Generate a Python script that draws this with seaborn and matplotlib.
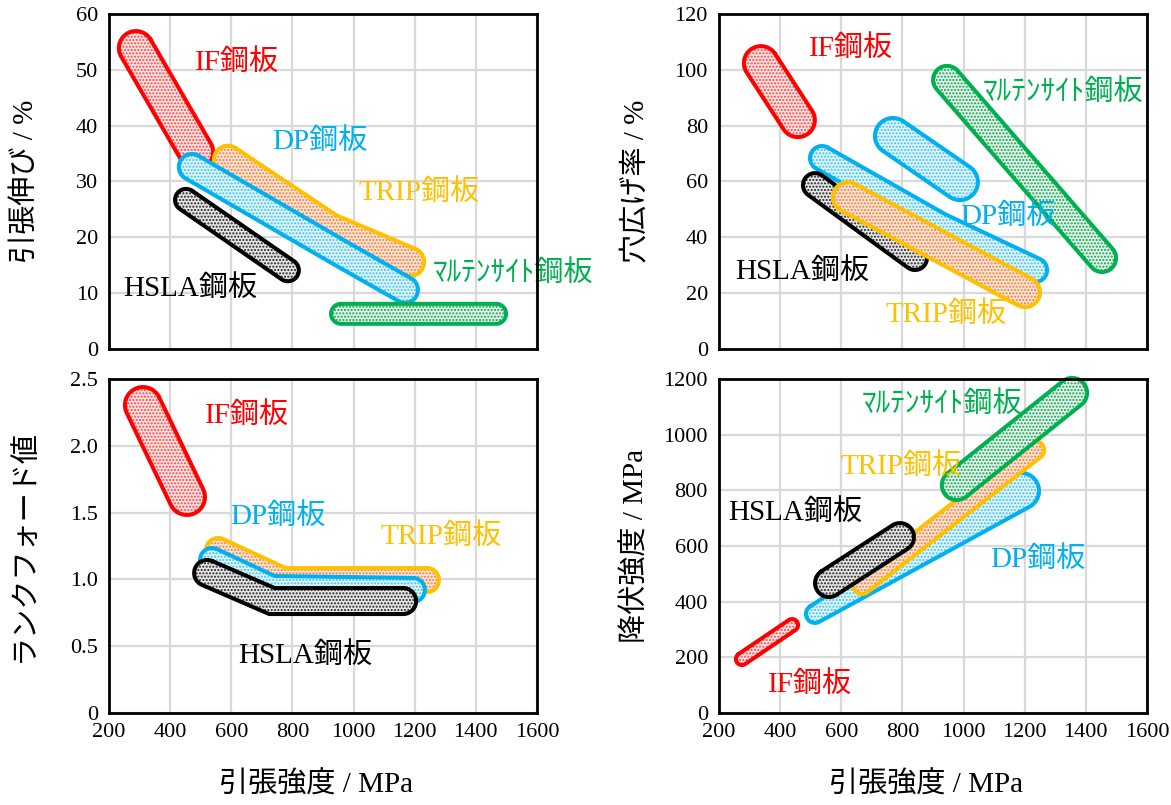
import numpy as np
import matplotlib
matplotlib.use('Agg')
import matplotlib.pyplot as plt
import seaborn as sns

sns.set_theme(style='whitegrid')
plt.rcParams['font.family'] = ['Liberation Serif', 'Noto Sans CJK JP']
plt.rcParams['hatch.linewidth'] = 1.0
plt.rcParams['axes.unicode_minus'] = False

# ---------------- data (centre lines of each steel region: tensile strength MPa, property) -------------
ts_ticks = [200, 400, 600, 800, 1000, 1200, 1400, 1600]
ts_ticklabels = ['200', '400', '600', '800', '1000', '1200', '1400', '1600']

# Panel 1: tensile elongation (%)
el_ticks = [0, 10, 20, 30, 40, 50, 60]
el_if_ts, el_if = [288, 485], [53.9, 35.3]
el_trip_ts, el_trip = [589, 923, 1185], [33.9, 21.7, 15.6]
el_dp_ts, el_dp = [471, 956, 1168], [32.6, 17.2, 10.6]
el_hsla_ts, el_hsla = [452, 785], [26.7, 14.1]
el_mart_ts, el_mart = [959, 1466], [6.3, 6.3]

# Panel 2: hole expansion ratio (%)
he_ticks = [0, 20, 40, 60, 80, 100, 120]
he_dp_ts, he_dp = [537, 923, 1234], [68.4, 44.4, 28.3]
he_hsla_ts, he_hsla = [514, 841], [58.7, 32.6]
he_trip_ts, he_trip = [622, 1201], [54.4, 20.4]
he_dp2_ts, he_dp2 = [769, 988], [76.3, 59.8]
he_mart_ts, he_mart = [946, 1453], [96.4, 32.6]
he_if_ts, he_if = [337, 458], [102.4, 82.0]

# Panel 3: Lankford value
r_ticks = [0, 0.5, 1.0, 1.5, 2.0, 2.5]
r_ticklabels = ['0', '0.5', '1.0', '1.5', '2.0', '2.5']
r_if_ts, r_if = [311, 455], [2.305, 1.617]
r_trip_ts, r_trip = [557, 769, 1240], [1.22, 0.995, 0.995]
r_dp_ts, r_dp = [537, 733, 1194], [1.145, 0.936, 0.921]
r_hsla_ts, r_hsla = [521, 733, 1162], [1.048, 0.838, 0.838]

# Panel 4: yield strength (MPa)
ys_ticks = [0, 200, 400, 600, 800, 1000, 1200]
ys_if_ts, ys_if = [275, 439], [194, 316]
ys_dp_ts, ys_dp = [514, 1188], [356, 798]
ys_trip_ts, ys_trip = [668, 1234], [460, 945]
ys_hsla_ts, ys_hsla = [560, 792], [467, 632]
ys_mart_ts, ys_mart = [978, 1355], [819, 1150]

# ---------------- styles ----------------
STY = {
    'IF':   dict(edge='#FF0000', face='#FFE4E4', hatch='#FF4040'),
    'DP':   dict(edge='#00B0F0', face='#E2F5FD', hatch='#3CC0F0'),
    'TRIP': dict(edge='#FFC000', face='#FDE6D6', hatch='#F07A3A'),
    'HSLA': dict(edge='#000000', face='#E6E6E6', hatch='#202020'),
    'M':    dict(edge='#00B050', face='#E2F5E8', hatch='#10A050'),
}
TXT = {'IF': '#FF0000', 'DP': '#00B0F0', 'TRIP': '#FFC000', 'HSLA': '#000000', 'M': '#00B050'}
LABEL = {'IF': 'IF鋼板', 'DP': 'DP鋼板', 'TRIP': 'TRIP鋼板', 'HSLA': 'HSLA鋼板', 'M': 'ﾏﾙﾃﾝｻｲﾄ鋼板'}

fig = plt.figure(figsize=(11.71, 8.05), dpi=100)
fig.patch.set_facecolor('white')
FW, FH = 1171, 805
ax_el = fig.add_axes([109 / FW, 1 - 349 / FH, 428 / FW, 335 / FH])
ax_he = fig.add_axes([719 / FW, 1 - 349 / FH, 428 / FW, 335 / FH])
ax_r = fig.add_axes([109 / FW, 1 - 713 / FH, 428 / FW, 334 / FH])
ax_ys = fig.add_axes([719 / FW, 1 - 713 / FH, 428 / FW, 334 / FH])


def setup(ax, yticks, ylabels, ylabel, show_x):
    ax.set_xlim(200, 1600)
    ax.set_ylim(yticks[0], yticks[-1])
    ax.set_xticks(ts_ticks)
    ax.set_xticklabels(ts_ticklabels)
    ax.set_yticks(yticks)
    ax.set_yticklabels(ylabels)
    ax.set_facecolor('white')
    ax.grid(True, color='#D9D9D9', linewidth=1.6)
    ax.set_axisbelow(True)
    for s in ax.spines.values():
        s.set_color('black')
        s.set_linewidth(2.0)
        s.set_zorder(50)
    ax.tick_params(length=0, labelsize=16, colors='black', pad=7)
    ax.tick_params(axis='y', pad=8)
    if not show_x:
        ax.tick_params(labelbottom=False)
    ax.set_ylabel(ylabel, fontsize=21, color='black')
    ax.yaxis.set_label_coords(-0.163, 0.5)
    if show_x:
        ax.set_xlabel('引張強度 / MPa', fontsize=21, color='black')
        ax.xaxis.set_label_coords(0.484, -0.175)


setup(ax_el, el_ticks, [str(v) for v in el_ticks], '引張伸び / %', False)
setup(ax_he, he_ticks, [str(v) for v in he_ticks], '穴広げ率 / %', False)
setup(ax_r, r_ticks, r_ticklabels, 'ランクフォード値', True)
setup(ax_ys, ys_ticks, [str(v) for v in ys_ticks], '降伏強度 / MPa', True)


def capsule(ax, xs, ys, radii, n_arc=30):
    pts = ax.transData.transform(np.column_stack([xs, ys]).astype(float))
    r = np.broadcast_to(np.asarray(radii, float), (len(pts),)).copy()
    d = np.diff(pts, axis=0)
    d = d / np.linalg.norm(d, axis=1)[:, None]
    nseg = np.column_stack([-d[:, 1], d[:, 0]])
    normals, dist = [], []
    for i in range(len(pts)):
        if i == 0:
            n, k = nseg[0], 1.0
        elif i == len(pts) - 1:
            n, k = nseg[-1], 1.0
        else:
            n = nseg[i - 1] + nseg[i]
            n = n / np.linalg.norm(n)
            k = 1.0 / np.dot(n, nseg[i])
        normals.append(n)
        dist.append(r[i] * k)
    normals = np.array(normals)
    dist = np.array(dist)
    left = pts + normals * dist[:, None]
    right = pts - normals * dist[:, None]
    te = np.arctan2(normals[-1][1], normals[-1][0])
    a = np.linspace(te, te - np.pi, n_arc)
    cap_e = pts[-1] + r[-1] * np.column_stack([np.cos(a), np.sin(a)])
    ts0 = np.arctan2(normals[0][1], normals[0][0])
    a = np.linspace(ts0 + np.pi, ts0, n_arc)
    cap_s = pts[0] + r[0] * np.column_stack([np.cos(a), np.sin(a)])
    poly = np.vstack([left, cap_e, right[::-1], cap_s, left[:1]])
    return ax.transData.inverted().transform(poly)


def region(ax, xs, ys, radii, kind, z):
    st = STY[kind]
    poly = capsule(ax, xs, ys, radii)
    ax.fill(poly[:, 0], poly[:, 1], facecolor=st['face'], edgecolor=st['hatch'],
            hatch='.....', linewidth=0, zorder=z, clip_on=False)
    sns.lineplot(x=poly[:, 0], y=poly[:, 1], sort=False, estimator=None, ax=ax,
                 color=st['edge'], linewidth=2.9, zorder=z + 0.5, clip_on=False,
                 solid_joinstyle='round', solid_capstyle='round')


# Panel 1
region(ax_el, el_if_ts, el_if, 17, 'IF', 3)
region(ax_el, el_trip_ts, el_trip, 14, 'TRIP', 4)
region(ax_el, el_dp_ts, el_dp, 13, 'DP', 5)
region(ax_el, el_hsla_ts, el_hsla, 11, 'HSLA', 6)
region(ax_el, el_mart_ts, el_mart, 10, 'M', 7)

# Panel 2
region(ax_he, he_dp_ts, he_dp, 12, 'DP', 3)
region(ax_he, he_hsla_ts, he_hsla, 12, 'HSLA', 4)
region(ax_he, he_trip_ts, he_trip, 15, 'TRIP', 5)
region(ax_he, he_dp2_ts, he_dp2, 18, 'DP', 6)
region(ax_he, he_mart_ts, he_mart, 14, 'M', 7)
region(ax_he, he_if_ts, he_if, 17, 'IF', 8)

# Panel 3
region(ax_r, r_if_ts, r_if, 18, 'IF', 3)
region(ax_r, r_trip_ts, r_trip, 12, 'TRIP', 4)
region(ax_r, r_dp_ts, r_dp, 12, 'DP', 5)
region(ax_r, r_hsla_ts, r_hsla, 13, 'HSLA', 6)

# Panel 4
region(ax_ys, ys_if_ts, ys_if, 6, 'IF', 3)
region(ax_ys, ys_dp_ts, ys_dp, [9, 18], 'DP', 4)
region(ax_ys, ys_trip_ts, ys_trip, 9, 'TRIP', 5)
region(ax_ys, ys_hsla_ts, ys_hsla, 14, 'HSLA', 6)
region(ax_ys, ys_mart_ts, ys_mart, 15, 'M', 7)

# group labels (placement in data coordinates)
labels_layout = {
    ax_el: [('IF', 619, 51.4), ('DP', 890, 37.1), ('TRIP', 1214, 28.1), ('HSLA', 465, 10.9), ('M', 1521, 13.6)],
    ax_he: [('IF', 632, 107.8), ('M', 1325, 91.7), ('DP', 1145, 47.3), ('HSLA', 471, 27.6), ('TRIP', 943, 12.2)],
    ax_r: [('IF', 651, 2.23), ('DP', 753, 1.47), ('TRIP', 1286, 1.32), ('HSLA', 841, 0.434)],
    ax_ys: [('M', 929, 1110), ('TRIP', 795, 884), ('HSLA', 449, 722), ('DP', 1243, 553), ('IF', 498, 104)],
}
for ax, items in labels_layout.items():
    for kind, x, y in items:
        ax.text(x, y, LABEL[kind], color=TXT[kind], fontsize=21, ha='center', va='center',
                zorder=40, clip_on=False)

for ax in (ax_el, ax_he, ax_r, ax_ys):
    ax.set_xlim(200, 1600)

fig.savefig('out.png', dpi=100, facecolor='white')
